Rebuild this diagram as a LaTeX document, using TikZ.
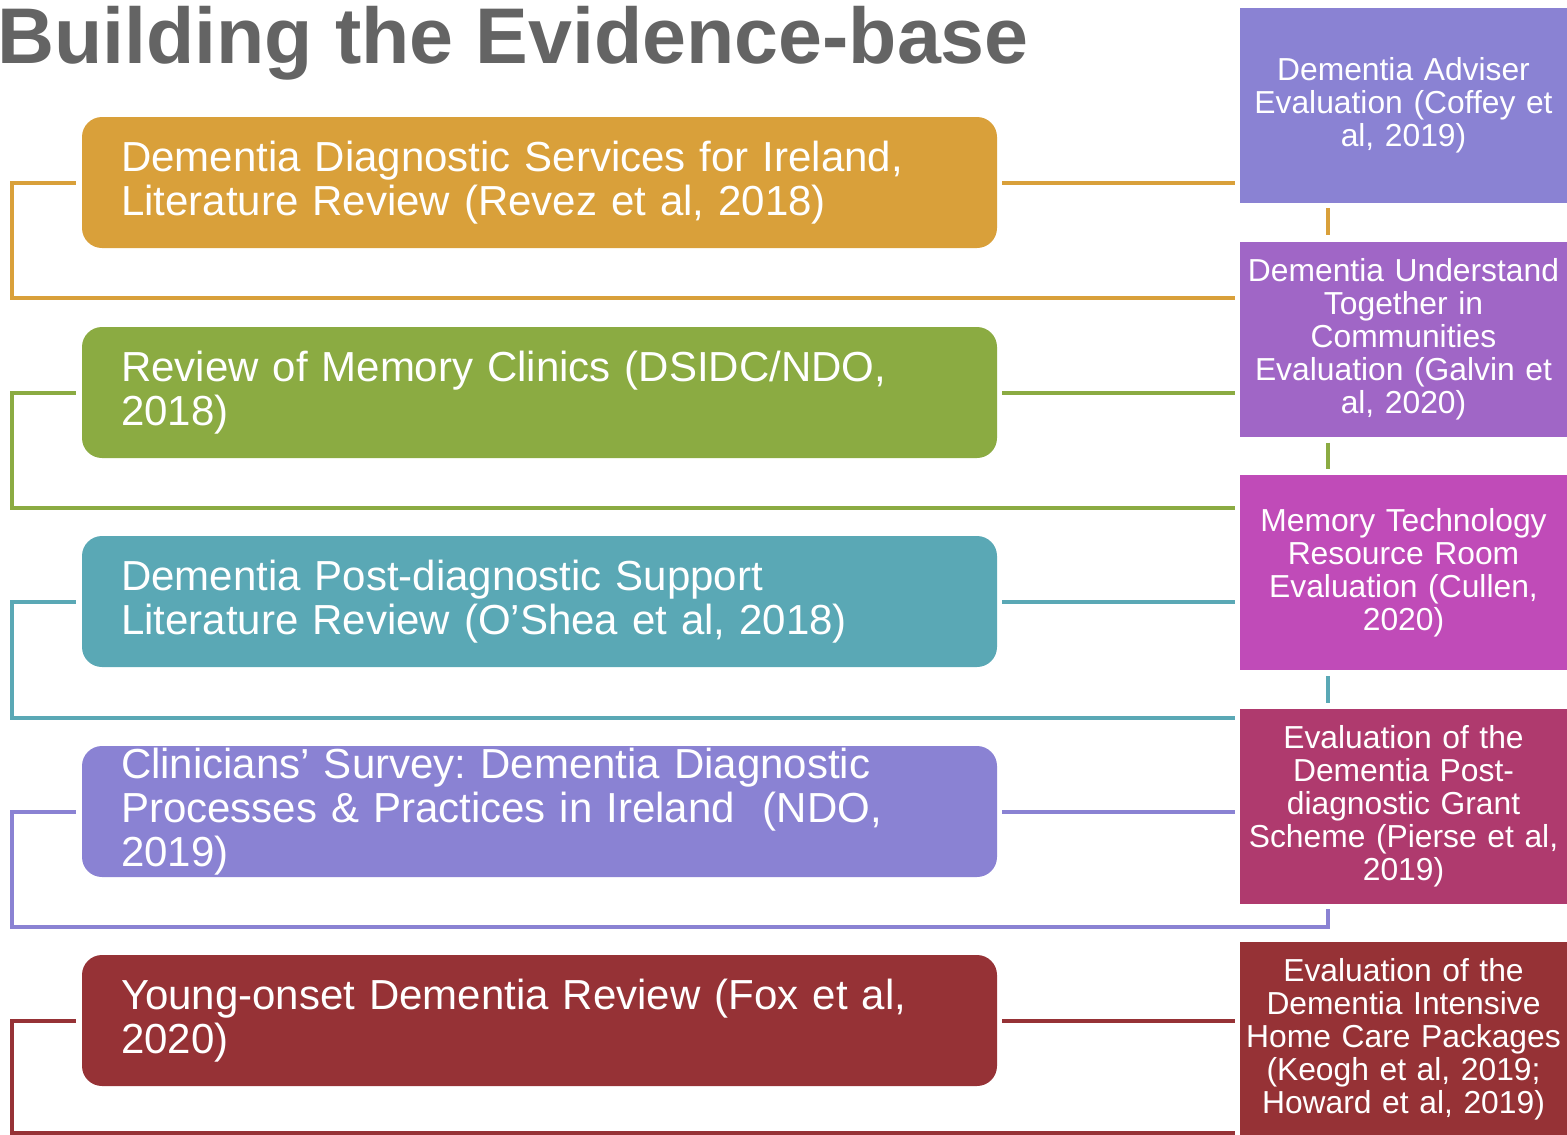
\documentclass[tikz,border=0pt]{standalone}
\usepackage{fontspec}
\setmainfont{Liberation Sans}
\usetikzlibrary{positioning}
\frenchspacing
\definecolor{titlegray}{HTML}{646464}
\definecolor{revez}{HTML}{D9A03A}
\definecolor{clinic}{HTML}{8BAB42}
\definecolor{oshea}{HTML}{5AA8B5}
\definecolor{survey}{HTML}{8A82D3}
\definecolor{youngon}{HTML}{963236}
\definecolor{adviser}{HTML}{8A82D3}
\definecolor{dutic}{HTML}{A066C6}
\definecolor{memtech}{HTML}{C04BB8}
\definecolor{grant}{HTML}{AF3A6E}
\definecolor{homecare}{HTML}{963236}

\begin{document}
\begin{tikzpicture}[x=1pt,y=-1pt,
  leftbox/.style={rounded corners=20pt,minimum width=915pt,minimum height=131pt,text width=837pt,inner xsep=39pt,inner ysep=0pt,align=left,text=white,font=\fontsize{42}{44}\selectfont},
  rightbox/.style={minimum width=327pt,minimum height=195pt,text width=323pt,inner xsep=2pt,inner ysep=0pt,align=center,text=white,font=\fontsize{31.8}{33}\selectfont},
  link/.style={line width=4pt}]
\useasboundingbox (0,0) rectangle (1567,1135);

% title
\node[anchor=base west,inner sep=0pt,text=titlegray,font=\fontsize{79}{79}\selectfont\bfseries] (title) at (-3,63) {Building the Evidence-base};

% left column
\node[leftbox,fill=revez] (L1) at (539.5,182.5) {Dementia Diagnostic Services for Ireland,\\Literature Review (Revez et al, 2018)};
\node[leftbox,fill=clinic] (L2) at (539.5,392.5) {Review of Memory Clinics (DSIDC/NDO,\\2018)};
\node[leftbox,fill=oshea] (L3) at (539.5,601.5) {Dementia Post-diagnostic Support\\Literature Review (O’Shea et al, 2018)};
\node[leftbox,fill=survey] (L4) at (539.5,811.5) {Clinicians’ Survey: Dementia Diagnostic\\Processes \& Practices in Ireland~ (NDO,\\2019)};
\node[leftbox,fill=youngon] (L5) at (539.5,1020.5) {Young-onset Dementia Review (Fox et al,\\2020)};

% right column
\node[rightbox,fill=adviser] (R1) at (1403.5,105.5) {Dementia Adviser\\Evaluation (Coffey et\\al, 2019)};
\node[rightbox,fill=dutic] (R2) at (1403.5,339) {Dementia Understand\\Together in\\Communities\\Evaluation (Galvin et\\al, 2020)};
\node[rightbox,fill=memtech] (R3) at (1403.5,572.5) {Memory Technology\\Resource Room\\Evaluation (Cullen,\\2020)};
\node[rightbox,fill=grant] (R4) at (1403.5,806.5) {Evaluation of the\\Dementia Post-\\diagnostic Grant\\Scheme (Pierse et al,\\2019)};
\node[rightbox,fill=homecare] (R5) at (1403.5,1039.5) {Evaluation of the\\Dementia Intensive\\Home Care Packages\\(Keogh et al, 2019;\\Howard et al, 2019)};

% bracket corners
\coordinate (b1) at (12,298);
\coordinate (b2) at (12,508);
\coordinate (b3) at (12,718);
\coordinate (b4) at (12,927);
\coordinate (b5) at (12,1133);
\coordinate (v4) at (1328,927);

% connectors
\draw[link,revez] ([xshift=-6pt]L1.west) -| (b1) -- ([xshift=-5pt]b1 -| R1.west);
\draw[link,revez] ([xshift=5pt]L1.east) -- ([xshift=-5pt]L1.east -| R1.west);
\draw[link,revez] ([xshift=-75.5pt,yshift=-5pt]R1.south) -- ([xshift=-75.5pt,yshift=6pt]R2.north);

\draw[link,clinic] ([xshift=-6pt]L2.west) -| (b2) -- ([xshift=-5pt]b2 -| R1.west);
\draw[link,clinic] ([xshift=5pt]L2.east) -- ([xshift=-5pt]L2.east -| R1.west);
\draw[link,clinic] ([xshift=-75.5pt,yshift=-6pt]R2.south) -- ([xshift=-75.5pt,yshift=6pt]R3.north);

\draw[link,oshea] ([xshift=-6pt]L3.west) -| (b3) -- ([xshift=-5pt]b3 -| R1.west);
\draw[link,oshea] ([xshift=5pt]L3.east) -- ([xshift=-5pt]L3.east -| R1.west);
\draw[link,oshea] ([xshift=-75.5pt,yshift=-6pt]R3.south) -- ([xshift=-75.5pt,yshift=6pt]R4.north);

\draw[link,survey] ([xshift=-6pt]L4.west) -| (b4) -- (v4) -- ([yshift=-5pt]v4 |- R4.south);
\draw[link,survey] ([xshift=5pt]L4.east) -- ([xshift=-5pt]L4.east -| R1.west);

\draw[link,youngon] ([xshift=-6pt]L5.west) -| (b5) -- ([xshift=-5pt]b5 -| R1.west);
\draw[link,youngon] ([xshift=5pt]L5.east) -- ([xshift=-5pt]L5.east -| R1.west);

\end{tikzpicture}
\end{document}
